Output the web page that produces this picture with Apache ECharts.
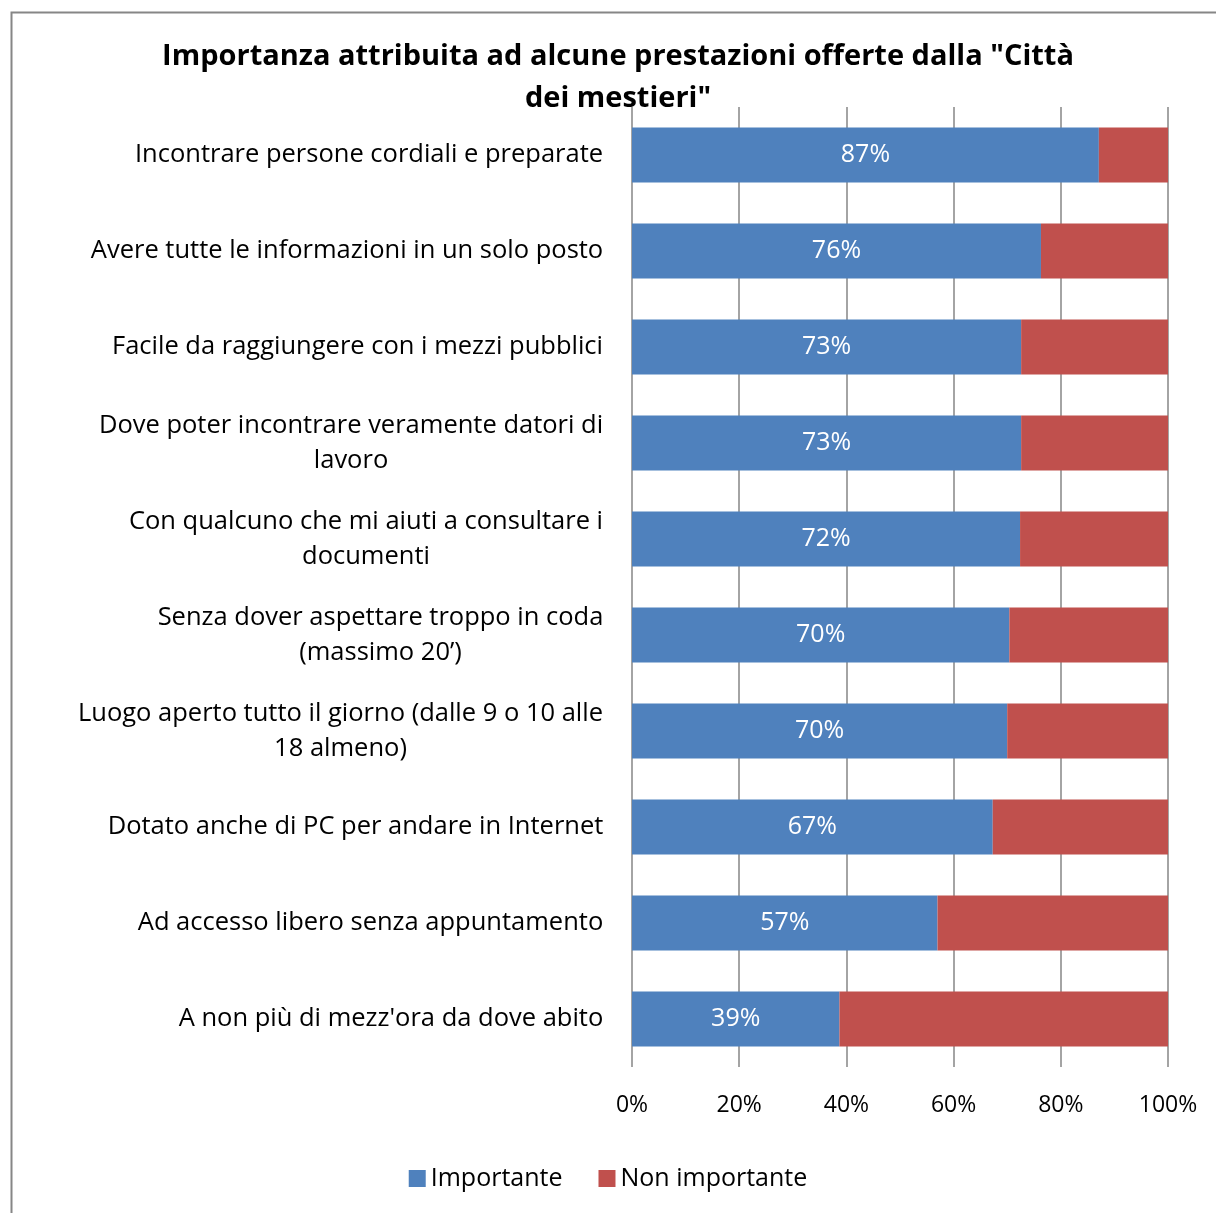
<!DOCTYPE html>
<html><head><meta charset="utf-8">
<script src="https://cdn.jsdelivr.net/npm/echarts@6/dist/echarts.min.js"></script>
<style>html,body{margin:0;padding:0;background:#fff}#c{width:1216px;height:1213px}</style>
</head><body><div id="c"></div>
<script>
const categories = [
  "Incontrare persone cordiali e preparate",
  "Avere tutte le informazioni in un solo posto",
  "Facile da raggiungere con i mezzi pubblici",
  "Dove poter incontrare veramente datori di\nlavoro",
  "Con qualcuno che mi aiuti a consultare i\ndocumenti",
  "Senza dover aspettare troppo in coda\n(massimo 20’)",
  "Luogo aperto tutto il giorno (dalle 9 o 10 alle\n18 almeno)",
  "Dotato anche di PC per andare in Internet",
  "Ad accesso libero senza appuntamento",
  "A non più di mezz'ora da dove abito"
];
const importante = [87.1, 76.3, 72.6, 72.6, 72.4, 70.4, 70.0, 67.3, 57.0, 38.7];
const nonImportante = [12.9, 23.7, 27.4, 27.4, 27.6, 29.6, 30.0, 32.7, 43.0, 61.3];
const xTicks = [0, 20, 40, 60, 80, 100];
const titleText = 'Importanza attribuita ad alcune prestazioni offerte dalla "Città\ndei mestieri"';

const FONT = 'Open Sans';
const LABEL_SIZE = 25.5;

// rich styles so that the lines of a wrapped label are centred within their block
const ctx = document.createElement('canvas').getContext('2d');
ctx.font = LABEL_SIZE + 'px "' + FONT + '"';
const rich = {};
categories.forEach((c, i) => {
  const w = Math.max(...c.split('\n').map(s => ctx.measureText(s).width));
  rich['r' + i] = { width: Math.ceil(w) + 1, align: 'center', fontFamily: FONT, fontSize: LABEL_SIZE,
                    color: '#000', lineHeight: 35 };
});

function build() {
  const chart = echarts.init(document.getElementById('c'));
  chart.setOption({
    animation: false,
    textStyle: { fontFamily: FONT },
    title: {
      text: titleText, left: 613, top: 31, textAlign: 'center',
      textStyle: { fontFamily: FONT, fontWeight: 'bold', fontSize: 29, color: '#000', lineHeight: 42 }
    },
    graphic: [{
      type: 'rect', left: 9, top: 10, shape: { width: 1230, height: 1230 },
      style: { fill: 'none', stroke: '#868686', lineWidth: 2 }, z: -1
    }],
    legend: {
      top: 1161, left: 'center', itemWidth: 17, itemHeight: 17, itemGap: 36,
      icon: 'rect',
      textStyle: { fontFamily: FONT, fontSize: 25, color: '#000' },
      data: ['Importante', 'Non importante']
    },
    grid: { left: 632, right: 48, top: 107, bottom: 146, containLabel: false },
    xAxis: {
      type: 'value', min: xTicks[0], max: xTicks[xTicks.length - 1], interval: 20,
      axisLine: { show: false }, axisTick: { show: false },
      splitLine: { show: true, lineStyle: { color: '#868686', width: 1.5 } },
      axisLabel: { formatter: '{value}%', fontFamily: FONT, fontSize: 23, color: '#000', margin: 27 }
    },
    yAxis: {
      type: 'category', data: categories, inverse: true,
      axisLine: { show: false }, axisTick: { show: false },
      axisLabel: {
        fontFamily: FONT, fontSize: LABEL_SIZE, color: '#000', margin: 28, lineHeight: 35, align: 'right',
        formatter: (v, i) => v.split('\n').map(s => '{r' + i + '|' + s + '}').join('\n'),
        rich: rich
      }
    },
    series: [
      {
        name: 'Importante', type: 'bar', stack: 't', data: importante, barWidth: 55,
        itemStyle: { color: '#4F81BD' },
        label: { show: true, position: 'inside', color: '#fff', fontFamily: FONT, fontSize: 25,
          formatter: p => Math.round(p.value) + '%' }
      },
      {
        name: 'Non importante', type: 'bar', stack: 't', data: nonImportante, barWidth: 55,
        itemStyle: { color: '#C0504D' }
      }
    ]
  });
}
build();
</script></body></html>
